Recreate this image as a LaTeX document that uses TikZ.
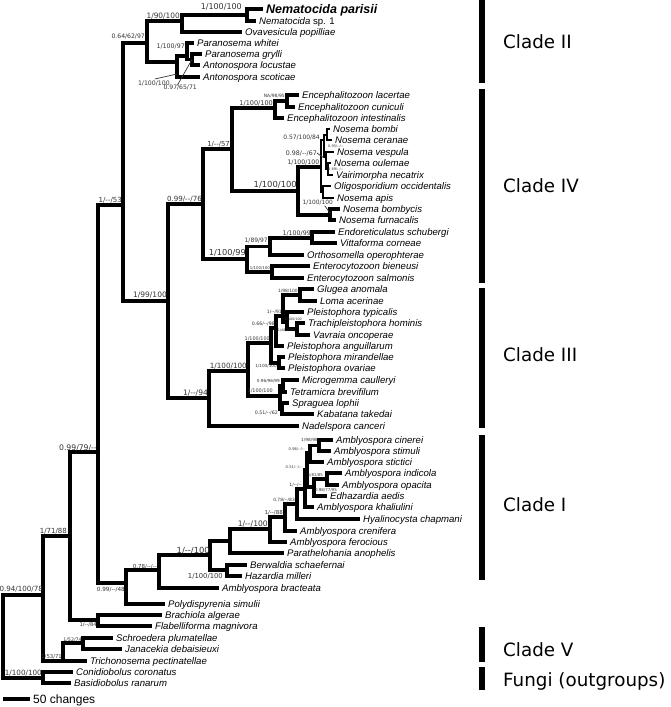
\documentclass[tikz,border=0pt]{standalone}
\usepackage{fontspec}
\setmainfont{Liberation Sans}
\newfontfamily\dvs{DejaVu Sans}
\begin{document}
\begin{tikzpicture}[x=1pt,y=-1pt]
\tikzset{
 br/.style={line width=3.1pt},
 tbr/.style={line width=2pt},
 leafn/.style={anchor=west, inner xsep=3.5pt, inner ysep=0pt, text height=6.9pt, text depth=0pt, font=\fontsize{9.6}{10}\selectfont\itshape},
 leafbig/.style={anchor=west, inner xsep=3.5pt, inner ysep=0pt, text height=9pt, text depth=0pt, font=\fontsize{12.5}{13}\selectfont\bfseries\itshape},
 lab/.style={anchor=east, inner sep=0pt, text=black!80, font=\dvs\fontsize{#1}{#1}\selectfont},
 cladelab/.style={anchor=west, inner sep=0pt, text height=13.3pt, text depth=0pt, font=\dvs\fontsize{18.3}{19}\selectfont},
 cbar/.style={line width=6pt},
 ptr/.style={line width=0.7pt, black!80},
}
\useasboundingbox (0,0) rectangle (670,707);

% ---------- leaves ----------
\node[leafbig] (l0) at (262.5,9) {Nematocida parisii};
\node[leafn] (l1) at (255.5,21) {Nematocida \upshape sp. 1};
\node[leafn] (l2) at (241.5,32) {Ovavesicula popilliae};
\node[leafn] (l3) at (193.5,43) {Paranosema whitei};
\node[leafn] (l4) at (201.5,54) {Paranosema grylli};
\node[leafn] (l5) at (199.5,65) {Antonospora locustae};
\node[leafn] (l6) at (199.5,77) {Antonospora scoticae};
\node[leafn] (l7) at (298.5,95) {Encephalitozoon lacertae};
\node[leafn] (l8) at (294.5,107) {Encephalitozoon cuniculi};
\node[leafn] (l9) at (283.5,118) {Encephalitozoon intestinalis};
\node[leafn] (l10) at (329.5,129) {Nosema bombi};
\node[leafn] (l11) at (331.5,140) {Nosema ceranae};
\node[leafn] (l12) at (333.5,152) {Nosema vespula};
\node[leafn] (l13) at (330.5,163) {Nosema oulemae};
\node[leafn] (l14) at (332.5,175) {Vairimorpha necatrix};
\node[leafn] (l15) at (330.5,186) {Oligosporidium occidentalis};
\node[leafn] (l16) at (333.5,198) {Nosema apis};
\node[leafn] (l17) at (339.5,209) {Nosema bombycis};
\node[leafn] (l18) at (335.5,220) {Nosema furnacalis};
\node[leafn] (l19) at (334.5,232) {Endoreticulatus schubergi};
\node[leafn] (l20) at (336.5,243) {Vittaforma corneae};
\node[leafn] (l21) at (303.5,255) {Orthosomella operophterae};
\node[leafn] (l22) at (309.5,266) {Enterocytozoon bieneusi};
\node[leafn] (l23) at (303.5,278) {Enterocytozoon salmonis};
\node[leafn] (l24) at (313.5,289) {Glugea anomala};
\node[leafn] (l25) at (316.5,301) {Loma acerinae};
\node[leafn] (l26) at (303.5,312) {Pleistophora typicalis};
\node[leafn] (l27) at (304.5,323) {Trachipleistophora hominis};
\node[leafn] (l28) at (309.5,335) {Vavraia oncoperae};
\node[leafn] (l29) at (283.5,346) {Pleistophora anguillarum};
\node[leafn] (l30) at (284.5,357) {Pleistophora mirandellae};
\node[leafn] (l31) at (284.5,368) {Pleistophora ovariae};
\node[leafn] (l32) at (298.5,380) {Microgemma caulleryi};
\node[leafn] (l33) at (286.5,392) {Tetramicra brevifilum};
\node[leafn] (l34) at (288.5,403) {Spraguea lophii};
\node[leafn] (l35) at (313.5,414) {Kabatana takedai};
\node[leafn] (l36) at (298.5,426) {Nadelspora canceri};
\node[leafn] (l37) at (332.5,440) {Amblyospora cinerei};
\node[leafn] (l38) at (330.5,451) {Amblyospora stimuli};
\node[leafn] (l39) at (323.5,462) {Amblyospora stictici};
\node[leafn] (l40) at (341.5,473) {Amblyospora indicola};
\node[leafn] (l41) at (338.5,485) {Amblyospora opacita};
\node[leafn] (l42) at (326.5,496) {Edhazardia aedis};
\node[leafn] (l43) at (313.5,507) {Amblyospora khaliulini};
\node[leafn] (l44) at (359.5,519) {Hyalinocysta chapmani};
\node[leafn] (l45) at (296.5,531) {Amblyospora crenifera};
\node[leafn] (l46) at (286.5,542) {Amblyospora ferocious};
\node[leafn] (l47) at (283.5,553) {Parathelohania anophelis};
\node[leafn] (l48) at (246.5,565) {Berwaldia schaefernai};
\node[leafn] (l49) at (241.5,576) {Hazardia milleri};
\node[leafn] (l50) at (218.5,588) {Amblyospora bracteata};
\node[leafn] (l51) at (164.5,604) {Polydispyrenia simulii};
\node[leafn] (l52) at (161.5,615) {Brachiola algerae};
\node[leafn] (l53) at (151.5,626) {Flabelliforma magnivora};
\node[leafn] (l54) at (112.5,638) {Schroedera plumatellae};
\node[leafn] (l55) at (121.5,649) {Janacekia debaisieuxi};
\node[leafn] (l56) at (86.5,661) {Trichonosema pectinatellae};
\node[leafn] (l57) at (72.5,672) {Conidiobolus coronatus};
\node[leafn] (l58) at (70.5,683) {Basidiobolus ranarum};

% ---------- internal nodes ----------
\coordinate (R) at (3,636);
\coordinate (nin) at (43,595);
\coordinate (nF) at (43,678);
\coordinate (nV) at (63,661);
\coordinate (nSJ) at (83,643);
\coordinate (na) at (70,536);
\coordinate (nBF) at (98,620);
\coordinate (nb) at (98,452);
\coordinate (nd) at (126,583);
\coordinate (ne) at (159,570);
\coordinate (nf) at (210,555);
\coordinate (nBH) at (227,570);
\coordinate (ng) at (230,541);
\coordinate (nh) at (270,529);
\coordinate (ni) at (285,517);
\coordinate (nj) at (297,504);
\coordinate (nk) at (305,489);
\coordinate (nl) at (307,470);
\coordinate (nm) at (310,453);
\coordinate (no) at (319,445.5);
\coordinate (nn) at (314,487);
\coordinate (np) at (327,479);
\coordinate (nc) at (123,205);
\coordinate (nII) at (147,43);
\coordinate (nNem) at (182,21);
\coordinate (nNemb) at (247,15);
\coordinate (nPA) at (177,62);
\coordinate (nPa) at (187,56);
\coordinate (nPb) at (192,59.5);
\coordinate (nq) at (168,301);
\coordinate (nr) at (203,204);
\coordinate (nt) at (232,149);
\coordinate (nE) at (275,108);
\coordinate (nEb) at (287,101);
\coordinate (nN) at (298,191);
\coordinate (nBFb) at (330,215);
\coordinate (ncore) at (321,167);
\coordinate (nGa) at (324,140);
\coordinate (nGaa) at (327,134.5);
\coordinate (nGab) at (326,157);
\coordinate (nGac) at (328,169);
\coordinate (nGb) at (323,192);
\coordinate (nu) at (247,259);
\coordinate (nv) at (270,246.5);
\coordinate (nx) at (312,238);
\coordinate (nw) at (272,272);
\coordinate (ns) at (209,398);
\coordinate (ny) at (248,371);
\coordinate (nz) at (271,343);
\coordinate (nza) at (276,328);
\coordinate (nzb) at (283,316);
\coordinate (nGL) at (300,295);
\coordinate (nPT) at (287,322);
\coordinate (nTV) at (297,329);
\coordinate (nMO) at (279,363);
\coordinate (nMS) at (280,396);
\coordinate (nMT) at (283,386);
\coordinate (nSK) at (282,409);

% ---------- branches ----------
\draw[br] (R) |- (nin);  \draw[br] (R) |- (nF);
\draw[br] (nF) |- (l57.west); \draw[br] (nF) |- (l58.west);
\draw[br] (nin) |- (na); \draw[br] (nin) |- (nV);
\draw[br] (nV) |- (nSJ); \draw[br] (nV) |- (l56.west);
\draw[br] (nSJ) |- (l54.west); \draw[br] (nSJ) |- (l55.west);
\draw[br] (na) |- (nb); \draw[br] (na) |- (nBF);
\draw[br] (nBF) |- (l52.west); \draw[br] (nBF) |- (l53.west);
\draw[br] (nb) |- (nc); \draw[br] (nb) |- (nd);
\draw[br] (nd) |- (ne); \draw[br] (nd) |- (l51.west);
\draw[br] (ne) |- (nf); \draw[br] (ne) |- (l50.west);
\draw[br] (nf) |- (ng); \draw[br] (nf) |- (nBH);
\draw[br] (nBH) |- (l48.west); \draw[br] (nBH) |- (l49.west);
\draw[br] (ng) |- (nh); \draw[br] (ng) |- (l47.west);
\draw[br] (nh) |- (ni); \draw[br] (nh) |- (l46.west);
\draw[br] (ni) |- (nj); \draw[br] (ni) |- (l45.west);
\draw[br] (nj) |- (nk); \draw[br] (nj) |- (l44.west);
\draw[br] (nk) |- (nl); \draw[br] (nk) |- (l43.west);
\draw[br] (nl) |- (nm); \draw[br] (nl) |- (nn);
\draw[br] (nm) |- (no); \draw[br] (nm) |- (l39.west);
\draw[br] (no) |- (l37.west); \draw[br] (no) |- (l38.west);
\draw[br] (nn) |- (np); \draw[br] (nn) |- (l42.west);
\draw[br] (np) |- (l40.west); \draw[br] (np) |- (l41.west);
\draw[br] (nc) |- (nII); \draw[br] (nc) |- (nq);
\draw[br] (nII) |- (nNem); \draw[br] (nII) |- (nPA);
\draw[br] (nNem) |- (nNemb); \draw[br] (nNem) |- (l2.west);
\draw[br] (nNemb) |- (l0.west); \draw[br] (nNemb) |- (l1.west);
\draw[br] (nPA) |- (nPa); \draw[br] (nPA) |- (l6.west);
\draw[br] (nPa) |- (l3.west); \draw[br] (nPa) |- (nPb);
\draw[br] (nPb) |- (l4.west); \draw[br] (nPb) |- (l5.west);
\draw[br] (nq) |- (nr); \draw[br] (nq) |- (ns);
\draw[br] (nr) |- (nt); \draw[br] (nr) |- (nu);
\draw[br] (nt) |- (nE); \draw[br] (nt) |- (nN);
\draw[br] (nE) |- (nEb); \draw[br] (nE) |- (l9.west);
\draw[br] (nEb) |- (l7.west); \draw[br] (nEb) |- (l8.west);
\draw[br] (nN) |- (ncore); \draw[br] (nN) |- (nBFb);
\draw[br] (nBFb) |- (l17.west); \draw[br] (nBFb) |- (l18.west);
\draw[tbr] (ncore) |- (nGa); \draw[tbr] (ncore) |- (nGb);
\draw[tbr] (nGa) |- (nGaa); \draw[tbr] (nGa) |- (nGab);
\draw[tbr] (nGaa) |- (l10.west); \draw[tbr] (nGaa) |- (l11.west);
\draw[tbr] (nGab) |- (l12.west); \draw[tbr] (nGab) |- (nGac);
\draw[tbr] (nGac) |- (l13.west); \draw[tbr] (nGac) |- (l14.west);
\draw[tbr] (nGb) |- (l15.west); \draw[tbr] (nGb) |- (l16.west);
\draw[br] (nu) |- (nv); \draw[br] (nu) |- (nw);
\draw[br] (nv) |- (nx); \draw[br] (nv) |- (l21.west);
\draw[br] (nx) |- (l19.west); \draw[br] (nx) |- (l20.west);
\draw[br] (nw) |- (l22.west); \draw[br] (nw) |- (l23.west);
\draw[br] (ns) |- (ny); \draw[br] (ns) |- (l36.west);
\draw[br] (ny) |- (nz); \draw[br] (ny) |- (nMS);
\draw[br] (nz) |- (nza); \draw[br] (nz) |- (nMO);
\draw[br] (nza) |- (nzb); \draw[br] (nza) |- (l29.west);
\draw[br] (nzb) |- (nGL); \draw[br] (nzb) |- (nPT);
\draw[br] (nGL) |- (l24.west); \draw[br] (nGL) |- (l25.west);
\draw[br] (nPT) |- (l26.west); \draw[br] (nPT) |- (nTV);
\draw[br] (nTV) |- (l27.west); \draw[br] (nTV) |- (l28.west);
\draw[br] (nMO) |- (l30.west); \draw[br] (nMO) |- (l31.west);
\draw[br] (nMS) |- (nMT); \draw[br] (nMS) |- (nSK);
\draw[br] (nMT) |- (l32.west); \draw[br] (nMT) |- (l33.west);
\draw[br] (nSK) |- (l34.west); \draw[br] (nSK) |- (l35.west);

% ---------- support labels ----------
\node[lab=8] (s1) at (242,7) {1/100/100};
\node[lab=7.4] (s2) at (180,16.5) {1/90/100};
\node[lab=6.1] (s3) at (145,37) {0.64/62/97};
\node[lab=6.3] (s4) at (185,46) {1/100/97};
\node[lab=6.2] (s5) at (170,83) {1/100/100};
\node[lab=6.1] (s6) at (197,88) {0.97/65/71};
\node[lab=4.5] (s7) at (285,96) {NA/98/95};
\node[lab=6.5] (s8) at (273,103) {1/100/100};
\node[lab=6] (s9) at (320,137.5) {0.57/100/84};
\node[lab=3.5,anchor=west] (s10) at (328,146) {0.95/-{}-/-{}-};
\node[lab=6.3] (s11) at (317,153) {0.98/-{}-/67};
\node[lab=6.2] (s12) at (319.5,162) {1/100/100};
\node[lab=3.5,anchor=west] (s13) at (328,169.2) {0.89/-{}-/-{}-};
\node[lab=8.4] (s14) at (297,185) {1/100/100};
\node[lab=5.9] (s15) at (333,203) {1/100/100};
\node[lab=6.8] (s16) at (230,144.5) {1/-{}-/57};
\node[lab=7.1] (s17) at (202,199) {0.99/-{}-/76};
\node[lab=7] (s18) at (122,200) {1/-{}-/53};
\node[lab=6.3] (s19) at (311,233) {1/100/99};
\node[lab=6] (s20) at (268,241) {1/89/97};
\node[lab=8.2] (s21) at (246,253) {1/100/99};
\node[lab=3.9] (s22) at (270,268) {1/100/100};
\node[lab=7.5] (s23) at (167,295.5) {1/99/100};
\node[lab=4.4] (s24) at (298,291) {1/98/100};
\node[lab=4.5] (s25) at (282,312) {1/-{}-/91};
\node[lab=4.7] (s26) at (275,324) {0.66/-{}-/98};
\node[lab=3.3] (s27) at (302,319) {1/100/100};
\node[lab=3.3] (s28) at (293,330) {1/48/100};
\node[lab=4.9] (s29) at (270,339) {1/100/100};
\node[lab=4.2] (s30) at (277,366.5) {1/100/100};
\node[lab=7.2] (s31) at (247,366) {1/100/100};
\node[lab=4.2] (s32) at (280,381) {0.96/96/99};
\node[lab=7.5] (s33) at (208,393) {1/-{}-/94};
\node[lab=4.9] (s34) at (273,391) {1/100/100};
\node[lab=4.7] (s35) at (278,412.5) {0.51/-{}-/62};
\node[lab=4.3] (s36) at (318,440) {1/98/98};
\node[lab=3.7] (s37) at (305,449) {0.96/-{}-/-{}-};
\node[lab=3.7] (s38) at (302,467) {0.51/-{}-/-{}-};
\node[lab=3.9] (s39) at (323,475) {1/81/85};
\node[lab=4.5] (s40) at (302,485) {1/-{}-/-{}-};
\node[lab=4] (s41) at (337,490) {0.98/77/95};
\node[lab=4.4] (s42) at (295,500.5) {0.78/-{}-/83};
\node[lab=5.5] (s43) at (283,513) {1/-{}-/88};
\node[lab=7.6] (s44) at (268,524.5) {1/-{}-/100};
\node[lab=8.4] (s45) at (210,550.5) {1/-{}-/100};
\node[lab=6.8] (s46) at (223,576.5) {1/100/100};
\node[lab=5.5] (s47) at (157,566.5) {0.78/-{}-/-{}-};
\node[lab=5.7] (s48) at (125,589.5) {0.99/-{}-/48};
\node[lab=7.7] (s49) at (97,447.5) {0.99/79/-{}-};
\node[lab=7] (s50) at (67,531.5) {1/71/88};
\node[lab=7.1] (s51) at (43,589) {0.94/100/78};
\node[lab=5.2] (s52) at (97,624.5) {1/-{}-/84};
\node[lab=4.8] (s53) at (82,639.5) {1/52/74};
\node[lab=5.3] (s54) at (62,656.5) {1/53/71};
\node[lab=7.2] (s55) at (42,673) {1/100/100};

% pointer lines
\coordinate (pA) at (177,74);
\draw[ptr] (155,79) coordinate (pa0) -- (pA);
\draw[ptr] (s6.north west) ++(14,0) coordinate (pb0) -- (nPb);
\coordinate (pC) at (324,158);
\draw[ptr] (s11.east) -- (pC);
\coordinate (pD) at (330,213);
\draw[ptr] (s15.south) ++(7,0) coordinate (pd0) -- (pD);

% ---------- clade bars and labels ----------
\draw[cbar] (482,0) -- (482,83);
\draw[cbar] (482,89) -- (482,283);
\draw[cbar] (482,288) -- (482,428);
\draw[cbar] (482,435) -- (482,580);
\draw[cbar] (482,627) -- (482,662);
\draw[cbar] (482,667) -- (482,690);
\node[cladelab] (c2) at (503,42) {Clade II};
\node[cladelab] (c4) at (503,186) {Clade IV};
\node[cladelab] (c3) at (503,355) {Clade III};
\node[cladelab] (c1) at (503,505) {Clade I};
\node[cladelab] (c5) at (503,650) {Clade V};
\node[cladelab] (cf) at (503,680) {Fungi (outgroups)};

% ---------- scale bar ----------
\coordinate (sba) at (3,699);
\node[anchor=west, inner xsep=3pt, inner ysep=0pt, text height=8.6pt, text depth=0pt, font=\fontsize{12}{12}\selectfont] (sbl) at (30,699) {50 changes};
\draw[br] (sba) -- (sbl.west);
\end{tikzpicture}
\end{document}
